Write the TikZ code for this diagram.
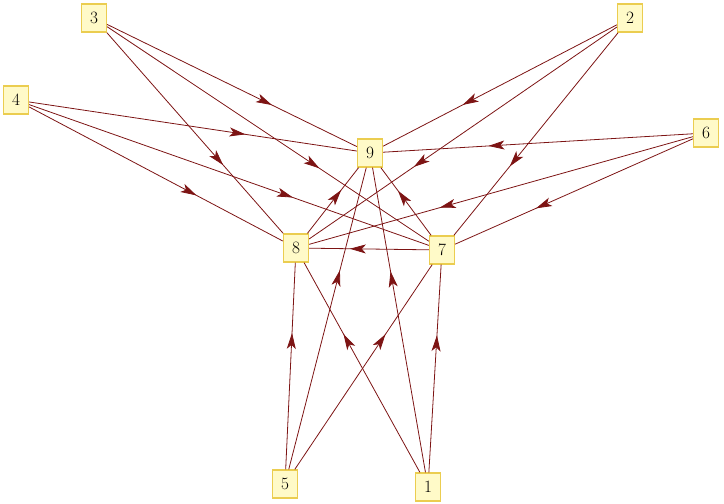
\documentclass[tikz,border=0pt]{standalone}
\usetikzlibrary{decorations.markings,arrows.meta}
\definecolor{edge}{RGB}{125,20,20}
\definecolor{nfill}{RGB}{255,250,200}
\definecolor{ndraw}{RGB}{235,205,80}
\begin{document}
\begin{tikzpicture}[x=1pt,y=-1pt,
  vert/.style={draw=ndraw,line width=1.3pt,fill=nfill,minimum width=25pt,minimum height=28pt,inner sep=0pt,font=\LARGE},
  e/.style={draw=edge,line width=0.8pt,postaction={decorate},decoration={markings,mark=at position 0.66 with {\arrow{Stealth[length=16pt,width=9pt,inset=4pt]}}}}]
\useasboundingbox (0,0) rectangle (724,504);
\node[vert] (n3) at (94,18) {3};
\node[vert] (n2) at (630,18) {2};
\node[vert] (n4) at (16,100) {4};
\node[vert] (n6) at (706,133) {6};
\node[vert] (n9) at (370,153) {9};
\node[vert] (n8) at (296,248) {8};
\node[vert] (n7) at (442,250) {7};
\node[vert] (n5) at (285,484) {5};
\node[vert] (n1) at (428,487) {1};
\foreach \a/\b in {n3/n9,n3/n8,n3/n7,n2/n9,n2/n8,n2/n7,n4/n9,n4/n8,n4/n7,n6/n9,n6/n8,n6/n7,n8/n9,n7/n9,n7/n8,n5/n8,n5/n9,n5/n7,n1/n8,n1/n9,n1/n7}
  \path[e] (\a) -- (\b);
\end{tikzpicture}
\end{document}
